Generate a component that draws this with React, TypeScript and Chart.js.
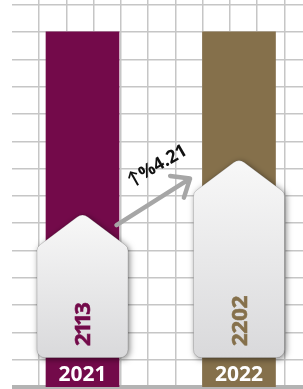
import { useEffect, useRef } from "react";
import { Chart, registerables } from "chart.js";

Chart.register(...registerables);

// ---- data ----
const CATEGORIES = ["2021", "2022"];
const VALUES = [2113, 2202];
const COLUMN_TOP = [2409, 2409];
const COLORS = ["#730a4a", "#85704b"];

const CHANGE = (((VALUES[1] - VALUES[0]) / VALUES[0]) * 100).toFixed(2);
const CHANGE_LABEL = "↑%" + CHANGE;

const FONT = "'Open Sans', Lato, sans-serif";

// draws text with proportional "1" digits
function drawPropText(ctx: CanvasRenderingContext2D, text: string, x: number, y: number, stroke: boolean) {
  let pos = x;
  for (const ch of text) {
    const w = ctx.measureText(ch).width;
    let dx = pos;
    let adv = w;
    if (ch === "1") {
      adv = w * 0.74;
      dx = pos - (w - adv) / 2;
    }
    if (stroke) ctx.strokeText(ch, dx, y);
    ctx.fillText(ch, dx, y);
    pos += adv;
  }
}

function pentagonPath(ctx: CanvasRenderingContext2D, cx: number, top: number, hw: number, drop: number, bottom: number) {
  const p0 = [cx, top];
  const p1 = [cx + hw, top + drop];
  const p2 = [cx + hw, bottom];
  const p3 = [cx - hw, bottom];
  const p4 = [cx - hw, top + drop];
  ctx.beginPath();
  ctx.moveTo(cx, bottom);
  ctx.arcTo(p3[0], p3[1], p4[0], p4[1], 8);
  ctx.arcTo(p4[0], p4[1], p0[0], p0[1], 7);
  ctx.arcTo(p0[0], p0[1], p1[0], p1[1], 9);
  ctx.arcTo(p1[0], p1[1], p2[0], p2[1], 7);
  ctx.arcTo(p2[0], p2[1], p3[0], p3[1], 8);
  ctx.closePath();
}

const decor = {
  id: "decor",
  afterDatasetsDraw(chart: any) {
    const ctx: CanvasRenderingContext2D = chart.ctx;
    const area = chart.chartArea;
    const meta = chart.getDatasetMeta(1);
    const bottom = area.bottom - 29.3;
    const els = meta.data.map((el: any) => el.getProps(["x", "y", "width", "base"], true));

    els.forEach((el: any, i: number) => {
      const cx = el.x;
      const top = el.y;
      const hw = el.width / 2;
      ctx.save();
      pentagonPath(ctx, cx, top, hw, 34, bottom);
      const g = ctx.createLinearGradient(0, top, 0, bottom);
      g.addColorStop(0, "#f8f8f8");
      g.addColorStop(1, "#d9d9db");
      ctx.shadowColor = "rgba(0,0,0,0.5)";
      ctx.shadowBlur = 6;
      ctx.shadowOffsetX = 1.5;
      ctx.shadowOffsetY = 1.5;
      ctx.fillStyle = g;
      ctx.fill();
      ctx.restore();
      ctx.save();
      pentagonPath(ctx, cx, top, hw, 34, bottom);
      ctx.strokeStyle = "rgba(0,0,0,0.14)";
      ctx.lineWidth = 1;
      ctx.stroke();
      ctx.restore();

      // value text (rotated)
      ctx.save();
      ctx.translate(cx, bottom - 11.7);
      ctx.rotate(-Math.PI / 2);
      ctx.font = "bold 22px " + FONT;
      ctx.fillStyle = COLORS[i];
      ctx.strokeStyle = COLORS[i];
      ctx.lineWidth = 0.6;
      ctx.textAlign = "left";
      ctx.textBaseline = "alphabetic";
      drawPropText(ctx, String(VALUES[i]), 0, 7.9, true);
      ctx.restore();

      // year label
      ctx.save();
      ctx.font = "bold 21px " + FONT;
      ctx.fillStyle = "#ffffff";
      ctx.textAlign = "center";
      ctx.textBaseline = "alphabetic";
      ctx.fillText(CATEGORIES[i], cx, area.bottom - 6);
      ctx.restore();
    });

    // connecting arrow
    if (els.length > 1) {
      const sx = els[0].x + 34;
      const sy = els[0].y + 12;
      const ex = els[1].x - 49;
      const ey = els[1].y + 20;
      const ang = Math.atan2(ey - sy, ex - sx);
      ctx.save();
      ctx.strokeStyle = "#a6a6a6";
      ctx.lineWidth = 4.5;
      ctx.lineCap = "round";
      ctx.lineJoin = "round";
      ctx.beginPath();
      ctx.moveTo(sx, sy);
      ctx.lineTo(ex, ey);
      const wl = 20;
      const wa = (40 * Math.PI) / 180;
      ctx.moveTo(ex + wl * Math.cos(ang + Math.PI - wa), ey + wl * Math.sin(ang + Math.PI - wa));
      ctx.lineTo(ex, ey);
      ctx.lineTo(ex + wl * Math.cos(ang + Math.PI + wa), ey + wl * Math.sin(ang + Math.PI + wa));
      ctx.stroke();
      ctx.restore();

      // percentage label
      ctx.save();
      ctx.translate((sx + ex) / 2 + 4, (sy + ey) / 2 - 36);
      ctx.rotate((-30 * Math.PI) / 180);
      ctx.font = "bold 18px " + FONT;
      ctx.fillStyle = "#111111";
      ctx.textAlign = "center";
      ctx.textBaseline = "middle";
      ctx.fillText(CHANGE_LABEL, 0, 0);
      ctx.restore();
    }
  },
};

export default function App() {
  const ref = useRef<HTMLCanvasElement | null>(null);
  useEffect(() => {
    if (!ref.current) return;
    const GRID = "#c6c6c6";
    const chart = new Chart(ref.current, {
      type: "bar",
      data: {
        datasets: [
          {
            label: "columns",
            data: CATEGORIES.map((_, i) => ({ x: i, y: COLUMN_TOP[i] })),
            backgroundColor: COLORS,
            barThickness: 73,
            grouped: false,
            order: 2,
          } as any,
          {
            label: "values",
            data: VALUES.map((v, i) => ({ x: i, y: v })),
            backgroundColor: "rgba(0,0,0,0)",
            barThickness: 91,
            grouped: false,
            order: 1,
          } as any,
        ],
      },
      options: {
        animation: false,
        responsive: false,
        maintainAspectRatio: false,
        events: [],
        layout: { padding: { left: 12, top: 0, right: 0, bottom: 2 } },
        plugins: { legend: { display: false }, tooltip: { enabled: false } },
        scales: {
          x: { type: "linear", display: false, offset: false, min: -0.4505, max: 1.409, grid: { offset: false } },
          y: { type: "linear", display: false, min: 1829, max: 2461 },
          xg: {
            type: "linear",
            axis: "x",
            position: "bottom",
            offset: false,
            min: 0,
            max: 10.68,
            ticks: { display: false, stepSize: 1, includeBounds: false },
            grid: {
              offset: false,
              drawTicks: false,
              lineWidth: 1.5,
              color: (c: any) => (c.tick && c.tick.value === 0 ? "rgba(0,0,0,0)" : GRID),
            },
            border: { display: false },
          },
          yg: {
            type: "linear",
            axis: "y",
            position: "left",
            min: 0,
            max: 14.18,
            ticks: { display: false, stepSize: 1, includeBounds: false },
            grid: {
              drawTicks: false,
              lineWidth: (c: any) => (c.tick && c.tick.value === 0 ? 4 : 1.5),
              color: (c: any) => (c.tick && c.tick.value === 0 ? "#b3b3b3" : GRID),
            },
            border: { display: false },
          },
        } as any,
      },
      plugins: [decor],
    });
    return () => chart.destroy();
  }, []);
  return (
    <div style={{ position: "fixed", left: 0, top: 0, width: 303, height: 389, background: "#ffffff" }}>
      <canvas ref={ref} width={303} height={389} style={{ display: "block" }} />
    </div>
  );
}
